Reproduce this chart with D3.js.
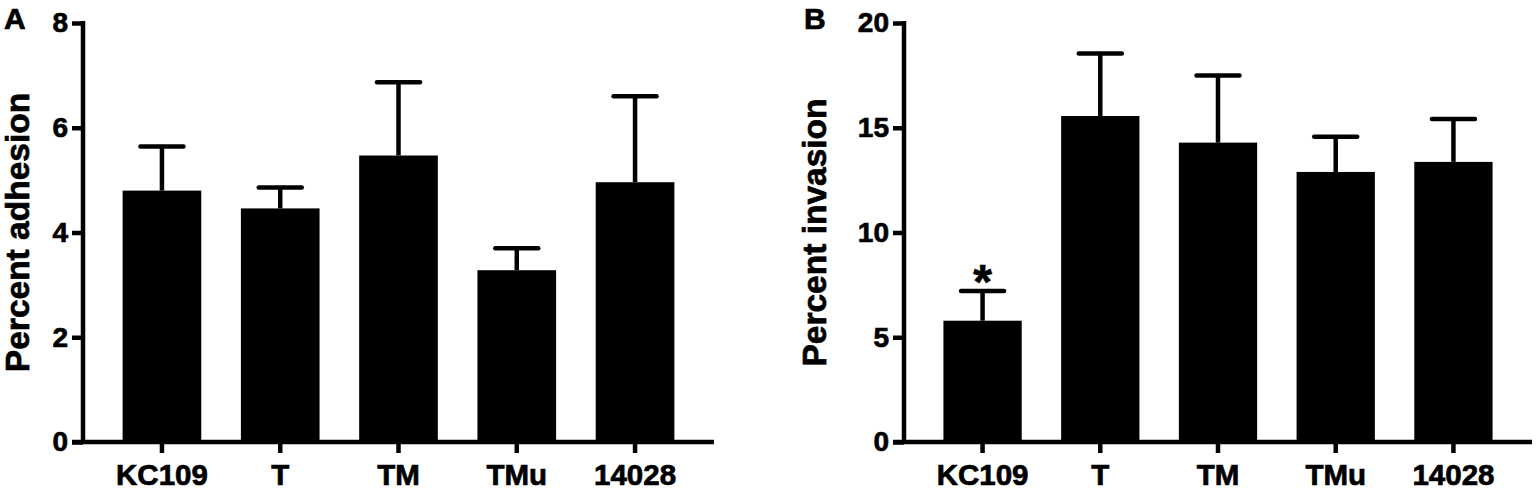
<!DOCTYPE html>
<html>
<head>
<meta charset="utf-8">
<script src="https://cdn.jsdelivr.net/npm/d3@7"></script>
<style>
  body { margin: 0; background: #fff; }
  svg text { font-family: "Liberation Sans", Arial, sans-serif; font-weight: bold; stroke: #000; stroke-width: 0.7px; }
</style>
</head>
<body>
<svg width="1536" height="490"></svg>
<script>
const strains = ["KC109", "T", "TM", "TMu", "14028"];

// panel A
const adhesionMean = [4.80, 4.46, 5.47, 3.28, 4.96];
const adhesionSem = [0.84, 0.40, 1.40, 0.42, 1.64];
const adhesionTicks = [0, 2, 4, 6, 8];

// panel B
const invasionMean = [5.79, 15.56, 14.29, 12.89, 13.37];
const invasionSem = [1.42, 2.99, 3.21, 1.68, 2.05];
const invasionTicks = [0, 5, 10, 15, 20];
const invasionStars = ["*", "", "", "", ""];

const svg = d3.select("svg");
const plotTop = 23, plotBottom = 442;
const tickLen = 11;

function panel(cfg) {
    const g = svg.append("g");

    const x = d3.scaleBand()
        .domain(strains)
        .range([cfg.left, cfg.right])
        .paddingInner(0.335)
        .paddingOuter(0.335);

    const y = d3.scaleLinear()
        .domain([0, d3.max(cfg.ticks)])
        .range([plotBottom, plotTop]);

    // y axis
    const yAxis = g.append("g")
        .attr("transform", `translate(${cfg.left},0)`)
        .call(d3.axisLeft(y).tickValues(cfg.ticks).tickSize(tickLen).tickSizeOuter(0).tickPadding(4));
    yAxis.select(".domain").remove();
    yAxis.selectAll(".tick line").attr("stroke", "#000").attr("stroke-width", 4.5);
    yAxis.selectAll(".tick text")
        .attr("fill", "#000")
        .style("font-size", "28px");

    // x axis
    const xAxis = g.append("g")
        .attr("transform", `translate(0,${plotBottom})`)
        .call(d3.axisBottom(x).tickSize(tickLen).tickSizeOuter(0).tickPadding(11));
    xAxis.select(".domain").remove();
    xAxis.selectAll(".tick line").attr("stroke", "#000").attr("stroke-width", 4.5);
    xAxis.selectAll(".tick text")
        .attr("fill", "#000")
        .style("font-size", "29.5px");

    // bars
    g.selectAll("rect.bar")
        .data(cfg.mean)
        .join("rect")
        .attr("class", "bar")
        .attr("x", (d, i) => x(strains[i]))
        .attr("width", x.bandwidth())
        .attr("y", d => y(d))
        .attr("height", d => y(0) - y(d))
        .attr("fill", "#000");

    // error bars (upper only)
    const cx = i => x(strains[i]) + x.bandwidth() / 2;
    const capW = 43;
    g.selectAll("line.stem")
        .data(cfg.mean)
        .join("line")
        .attr("class", "stem")
        .attr("x1", (d, i) => cx(i)).attr("x2", (d, i) => cx(i))
        .attr("y1", d => y(d))
        .attr("y2", (d, i) => y(d + cfg.sem[i]))
        .attr("stroke", "#000").attr("stroke-width", 4.5);
    g.selectAll("line.cap")
        .data(cfg.mean)
        .join("line")
        .attr("class", "cap")
        .attr("x1", (d, i) => cx(i) - capW / 2).attr("x2", (d, i) => cx(i) + capW / 2)
        .attr("y1", (d, i) => y(d + cfg.sem[i]))
        .attr("y2", (d, i) => y(d + cfg.sem[i]))
        .attr("stroke", "#000").attr("stroke-width", 4.5)
        .attr("stroke-linecap", "round");

    // axis lines
    g.append("line")
        .attr("x1", cfg.left).attr("x2", cfg.left)
        .attr("y1", y(0)).attr("y2", y(d3.max(cfg.ticks)) - 2)
        .attr("stroke", "#000").attr("stroke-width", 4.5);
    g.append("line")
        .attr("x1", cfg.left - tickLen).attr("x2", cfg.right)
        .attr("y1", y(0)).attr("y2", y(0))
        .attr("stroke", "#000").attr("stroke-width", 4.5);

    if (cfg.stars) {
        g.selectAll("text.star")
            .data(cfg.stars)
            .join("text")
            .attr("class", "star")
            .attr("x", (d, i) => cx(i))
            .attr("y", (d, i) => y(cfg.mean[i] + cfg.sem[i]) + 7)
            .attr("text-anchor", "middle")
            .style("font-size", "48px")
            .text(d => d);
    }

    // axis title
    g.append("text")
        .attr("transform", `translate(${cfg.titleX},${(plotTop + plotBottom) / 2}) rotate(-90)`)
        .attr("text-anchor", "middle")
        .style("font-size", "33.5px")
        .text(cfg.title);

    // panel letter
    g.append("text")
        .attr("x", cfg.letterX).attr("y", 28.5)
        .style("font-size", "30px")
        .text(cfg.letter);
}

panel({
    left: 83, right: 714,
    mean: adhesionMean, sem: adhesionSem, ticks: adhesionTicks,
    title: "Percent adhesion", titleX: 29, letter: "A", letterX: 4
});

panel({
    left: 904, right: 1532,
    mean: invasionMean, sem: invasionSem, ticks: invasionTicks, stars: invasionStars,
    title: "Percent invasion", titleX: 826, letter: "B", letterX: 804
});
</script>
</body>
</html>
